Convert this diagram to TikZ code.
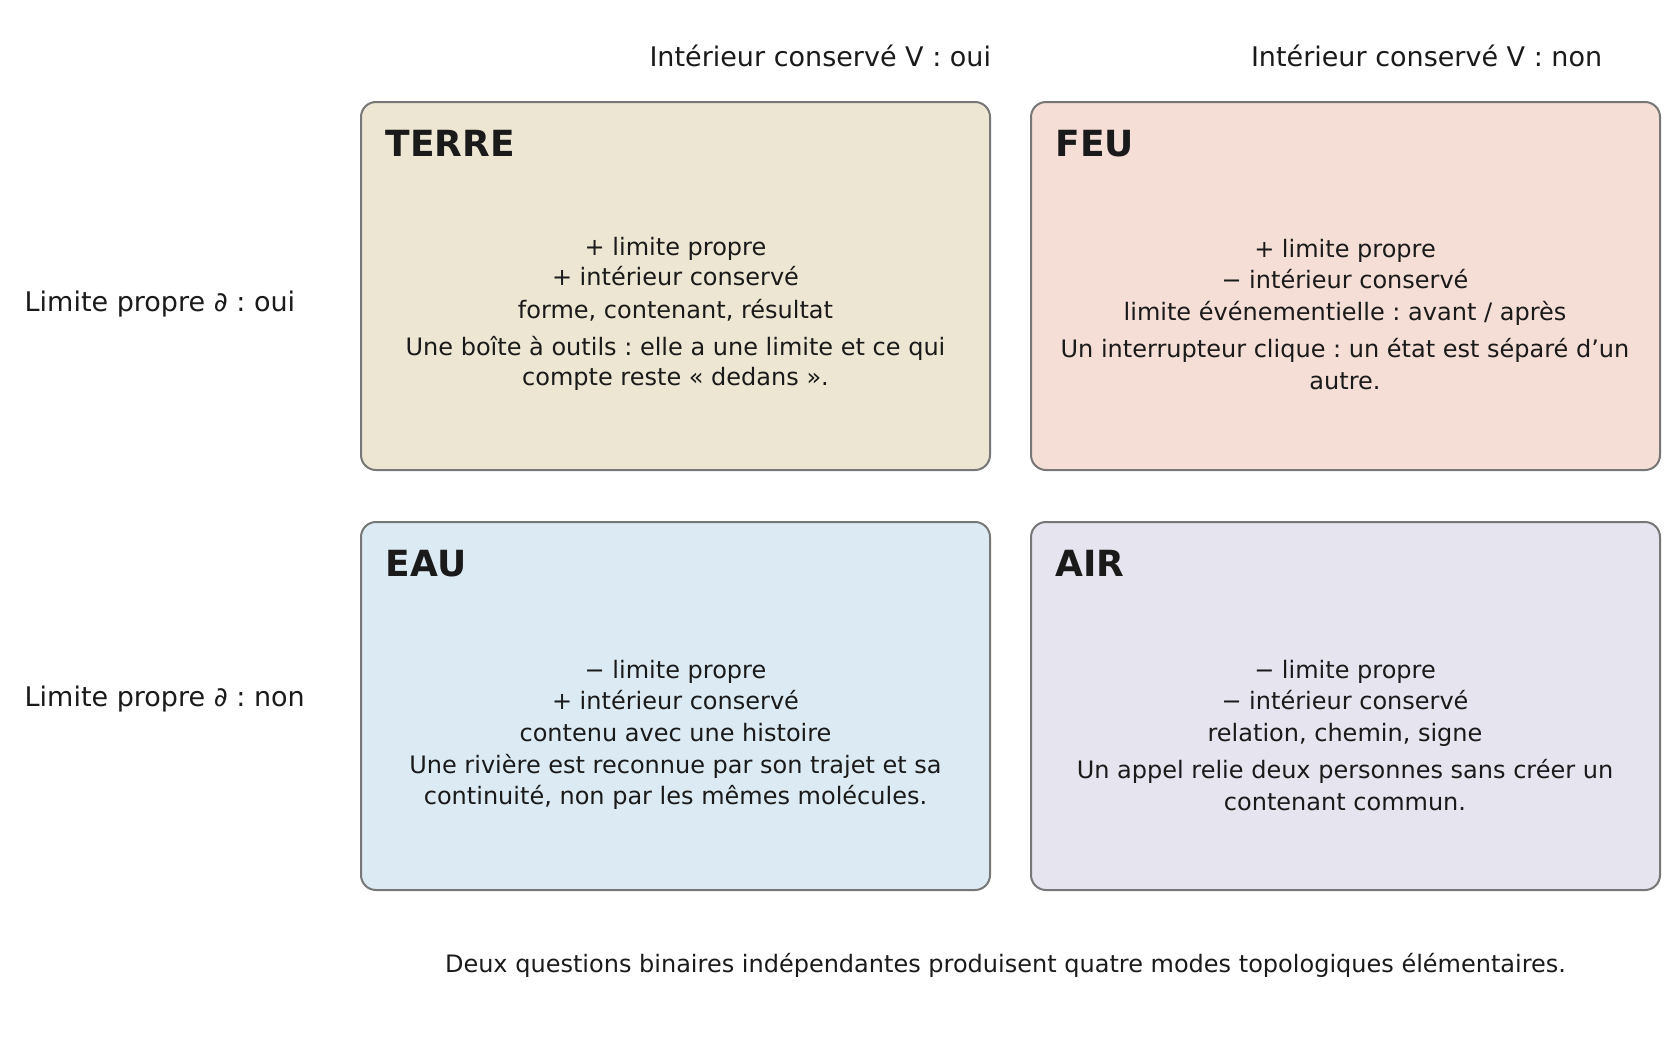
\documentclass[tikz,border=0pt]{standalone}
\usepackage{fontspec}
\setmainfont{DejaVu Sans}
\frenchspacing
\begin{document}
\begin{tikzpicture}[x=1pt,y=-1pt,
  txt/.style={inner sep=0pt,outer sep=0pt,text=ink},
  hdr/.style={txt,font=\fontsize{27}{32}\selectfont},
  body/.style={txt,anchor=base,font=\fontsize{24}{29}\selectfont},
  ttl/.style={txt,anchor=base west,font=\fontsize{36}{42}\selectfont\bfseries},
  captxt/.style={txt,anchor=base,font=\fontsize{24}{29}\selectfont},
  card/.style={draw=edge,line width=2pt,rounded corners=15pt,minimum width=629pt,minimum height=368pt,inner sep=0pt,anchor=north west}
]
\definecolor{ink}{HTML}{1A1A1A}
\definecolor{edge}{HTML}{777777}
\definecolor{cterre}{HTML}{EDE6D2}
\definecolor{cfeu}{HTML}{F4DED5}
\definecolor{ceau}{HTML}{DCEBF3}
\definecolor{cair}{HTML}{E6E4EE}
\useasboundingbox (0,0) rectangle (1677,1036);

% column headers
\node[hdr,anchor=base west] (h1) at (649.5,66) {Intérieur conservé V : oui};
\node[hdr,anchor=base west] (h2) at (1251,66) {Intérieur conservé V : non};
% row labels
\node[hdr,anchor=base west] (r1) at (24.7,311.7) {Limite propre ∂ : oui};
\node[hdr,anchor=base west] (r2) at (24.7,706.7) {Limite propre ∂ : non};

% cards
\node[card,fill=cterre] (terre) at (360,101) {};
\node[card,fill=cfeu] (feu) at (1030,101) {};
\node[card,fill=ceau] (eau) at (360,521) {};
\node[card,fill=cair] (air) at (1030,521) {};

% titles
\node[ttl] (tterre) at (385.7,156.7) {TERRE};
\node[ttl] (tfeu) at (1055.7,156.7) {FEU};
\node[ttl] (teau) at (385.7,576.7) {EAU};
\node[ttl] (tair) at (1055.7,576.7) {AIR};

% TERRE body
\node[body] (a1) at (675.5,255.7) {+ limite propre};
\node[body] (a2) at (675.5,285.7) {+ intérieur conservé};
\node[body] (a3) at (675.5,318.7) {forme, contenant, résultat};
\node[body] (a4) at (675.5,355) {Une boîte à outils : elle a une limite et ce qui};
\node[body] (a5) at (675.5,385.7) {compte reste « dedans ».};

% FEU body
\node[body] (b1) at (1345,257.7) {+ limite propre};
\node[body] (b2) at (1345,288.3) {− intérieur conservé};
\node[body] (b3) at (1345,320) {limite événementielle : avant / après};
\node[body] (b4) at (1345,357.7) {Un interrupteur clique : un état est séparé d’un};
\node[body] (b5) at (1345,389.3) {autre.};

% EAU body
\node[body] (c1) at (675.5,678.7) {− limite propre};
\node[body] (c2) at (675.5,709.3) {+ intérieur conservé};
\node[body] (c3) at (675.5,741) {contenu avec une histoire};
\node[body] (c4) at (675.5,773.7) {Une rivière est reconnue par son trajet et sa};
\node[body] (c5) at (675.5,804.3) {continuité, non par les mêmes molécules.};

% AIR body
\node[body] (d1) at (1345,678.7) {− limite propre};
\node[body] (d2) at (1345,709.3) {− intérieur conservé};
\node[body] (d3) at (1345,741) {relation, chemin, signe};
\node[body] (d4) at (1345,778.7) {Un appel relie deux personnes sans créer un};
\node[body] (d5) at (1345,810.3) {contenant commun.};

% caption
\node[captxt] (caption) at (1005.5,972) {Deux questions binaires indépendantes produisent quatre modes topologiques élémentaires.};
\end{tikzpicture}
\end{document}
